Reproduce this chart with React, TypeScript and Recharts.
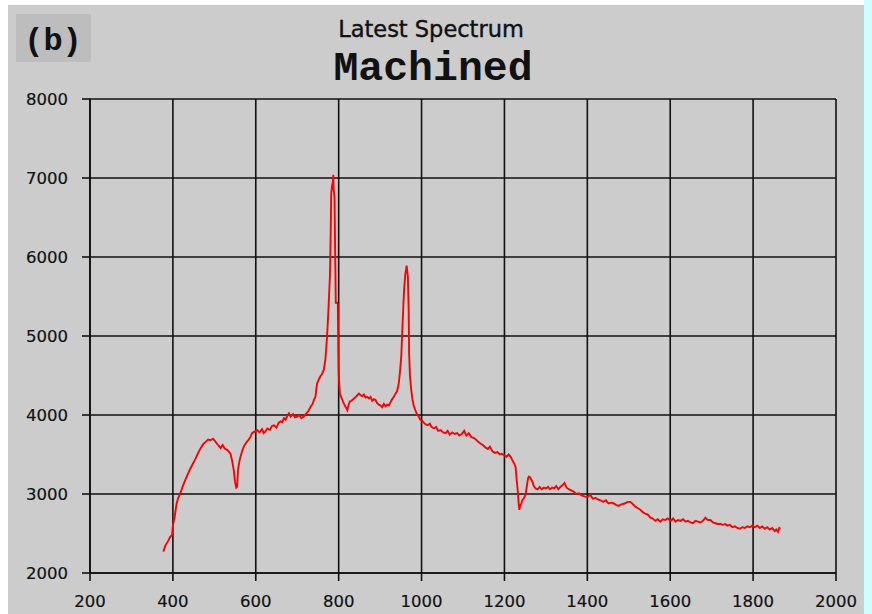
import React from 'react';
import { LineChart, Line, XAxis, YAxis, CartesianGrid } from 'recharts';

// Raman shift (cm-1)
const wavenumber = [
  377, 382, 388, 394, 398, 400, 404, 409, 413, 418, 424, 430, 436, 442, 448, 455, 461, 467, 473, 479,
  485, 491, 497, 503, 509, 515, 520, 526, 531, 536, 539, 543, 547, 550, 553, 555, 557, 560, 563, 567,
  571, 577, 583, 587, 591, 597, 603, 609, 615, 619, 623, 628, 634, 639, 644, 650, 655, 660, 664, 668,
  672, 676, 680, 684, 690, 695, 700, 705, 710, 716, 722, 727, 732, 737, 741, 744, 746, 748, 752, 756,
  760, 764, 768, 772, 775, 779, 781, 782, 784, 786, 787, 788, 790, 791, 793, 796, 798, 799, 800, 802,
  803, 806, 809, 812, 815, 818, 821, 824, 827, 831, 835, 840, 845, 849, 853, 857, 861, 865, 869, 873,
  877, 881, 885, 889, 893, 897, 901, 905, 909, 913, 917, 921, 925, 929, 933, 937, 941, 945, 948, 951,
  953, 956, 958, 961, 963, 964, 966, 967, 969, 970, 972, 975, 978, 981, 985, 989, 993, 997, 1001, 1006,
  1010, 1015, 1020, 1024, 1030, 1035, 1040, 1046, 1052, 1058, 1063, 1068, 1074, 1080, 1086, 1091, 1097, 1103, 1108, 1114,
  1120, 1126, 1131, 1137, 1142, 1148, 1154, 1160, 1165, 1171, 1177, 1183, 1189, 1194, 1199, 1205, 1210, 1215, 1220, 1224,
  1227, 1230, 1232, 1234, 1236, 1238, 1241, 1243, 1247, 1251, 1254, 1257, 1259, 1262, 1265, 1268, 1271, 1275, 1280, 1285,
  1290, 1295, 1300, 1305, 1310, 1315, 1320, 1325, 1330, 1335, 1340, 1345, 1350, 1355, 1360, 1367, 1373, 1380, 1387, 1393,
  1400, 1407, 1413, 1420, 1426, 1432, 1438, 1445, 1451, 1458, 1464, 1470, 1476, 1482, 1490, 1498, 1504, 1510, 1516, 1522,
  1528, 1534, 1540, 1546, 1552, 1558, 1564, 1570, 1576, 1582, 1588, 1594, 1601, 1607, 1613, 1619, 1625, 1631, 1637, 1643,
  1649, 1655, 1661, 1667, 1673, 1679, 1685, 1691, 1697, 1703, 1709, 1715, 1721, 1727, 1733, 1738, 1744, 1750, 1756, 1762,
  1768, 1774, 1780, 1786, 1792, 1798, 1804, 1810, 1816, 1822, 1828, 1834, 1840, 1846, 1852, 1856, 1860, 1863, 1866,
];

// intensity (counts) at each shift above
const counts = [
  2270, 2350, 2400, 2460, 2480, 2600, 2700, 2880, 2950, 3010, 3100, 3180, 3250, 3320, 3380, 3450, 3520, 3580, 3630, 3660,
  3690, 3680, 3700, 3660, 3620, 3580, 3620, 3570, 3560, 3530, 3510, 3420, 3300, 3150, 3080, 3090, 3300, 3400, 3470, 3540,
  3600, 3650, 3690, 3720, 3770, 3790, 3810, 3780, 3820, 3770, 3790, 3830, 3810, 3860, 3870, 3840, 3900, 3920, 3910, 3960,
  3940, 3990, 4020, 3980, 4010, 3970, 3980, 4000, 3960, 3980, 4020, 4050, 4100, 4140, 4200, 4230, 4320, 4400, 4450, 4490,
  4520, 4570, 4700, 4990, 5300, 5770, 6400, 6800, 6900, 6950, 7040, 6850, 6760, 6300, 5420, 5420, 5400, 4900, 4530, 4350,
  4270, 4230, 4190, 4150, 4120, 4090, 4060, 4130, 4170, 4180, 4200, 4220, 4250, 4270, 4250, 4240, 4260, 4220, 4230, 4210,
  4230, 4180, 4200, 4190, 4150, 4130, 4120, 4100, 4140, 4110, 4130, 4120, 4160, 4200, 4230, 4270, 4300, 4400, 4550, 4740,
  5000, 5370, 5600, 5790, 5850, 5890, 5800, 5750, 5300, 4780, 4500, 4320, 4200, 4120, 4060, 4010, 3980, 3940, 3930, 3900,
  3880, 3870, 3890, 3850, 3830, 3850, 3800, 3810, 3780, 3770, 3800, 3750, 3780, 3760, 3770, 3740, 3760, 3800, 3740, 3770,
  3720, 3710, 3690, 3660, 3640, 3620, 3590, 3570, 3600, 3540, 3520, 3530, 3500, 3510, 3490, 3470, 3500, 3470, 3420, 3380,
  3340, 3150, 3050, 2900, 2800, 2850, 2880, 2920, 2950, 2990, 3100, 3200, 3220, 3210, 3180, 3150, 3100, 3070, 3060, 3090,
  3060, 3080, 3070, 3090, 3060, 3080, 3070, 3100, 3060, 3090, 3110, 3140, 3080, 3060, 3050, 3030, 3000, 3010, 2980, 2970,
  2960, 2990, 2940, 2950, 2930, 2920, 2900, 2920, 2880, 2890, 2880, 2860, 2850, 2870, 2880, 2900, 2900, 2870, 2840, 2820,
  2800, 2770, 2750, 2740, 2700, 2690, 2660, 2680, 2650, 2680, 2670, 2690, 2660, 2690, 2650, 2670, 2660, 2680, 2650, 2660,
  2640, 2630, 2660, 2650, 2640, 2660, 2700, 2670, 2670, 2640, 2630, 2620, 2620, 2610, 2620, 2600, 2610, 2580, 2590, 2570,
  2560, 2580, 2570, 2590, 2580, 2600, 2580, 2600, 2570, 2590, 2560, 2580, 2550, 2570, 2530, 2550, 2520, 2570, 2560,
];

const xTicks = [200, 400, 600, 800, 1000, 1200, 1400, 1600, 1800, 2000];
const yTicks = [2000, 3000, 4000, 5000, 6000, 7000, 8000];

const spectrum = wavenumber.map((x, i) => ({ x, y: counts[i] }));

const tickFont = { fontFamily: 'DejaVu Sans', fontSize: 16.5, fill: '#111', stroke: '#111', strokeWidth: 0.2 };

export default function App() {
  return (
    <div style={{ position: 'absolute', left: 0, top: 0, width: 872, height: 614, background: '#fff', overflow: 'hidden' }}>
      <div style={{ position: 'absolute', left: 8, top: 5, width: 856, height: 609, background: '#cccccc' }} />
      <div style={{ position: 'absolute', left: 864, top: 0, width: 8, height: 614, background: '#ccffff' }} />
      <div style={{ position: 'absolute', left: 16, top: 14, width: 75, height: 48, background: '#bdbdbd' }} />
      <svg style={{ position: 'absolute', left: 0, top: 0 }} width={872} height={100}>
        <text x={53} y={50} textAnchor="middle" fontFamily="Liberation Mono" fontWeight="bold" fontSize={32} fill="#111">(b)</text>
        <text x={431} y={37} textAnchor="middle" fontFamily="DejaVu Sans" fontSize={22.5} fill="#111" stroke="#111" strokeWidth={0.4}>Latest Spectrum</text>
        <text x={433} y={80} textAnchor="middle" fontFamily="Liberation Mono" fontWeight="bold" fontSize={41.5} fill="#111">Machined</text>
      </svg>
      <div style={{ position: 'absolute', left: 0, top: 0 }}>
        <LineChart width={872} height={614} data={spectrum} margin={{ top: 99, right: 36, left: 30, bottom: 11 }}>
          <CartesianGrid stroke="#111" strokeWidth={1.6} horizontalValues={yTicks} verticalValues={xTicks} />
          <XAxis
            dataKey="x"
            type="number"
            domain={[200, 2000]}
            ticks={xTicks}
            height={30}
            tickSize={8}
            tickMargin={14}
            tick={tickFont}
            axisLine={{ stroke: '#111', strokeWidth: 1.6 }}
            tickLine={{ stroke: '#111', strokeWidth: 1.6 }}
            allowDataOverflow
          />
          <YAxis
            type="number"
            domain={[2000, 8000]}
            ticks={yTicks}
            width={60}
            tickSize={8}
            tickMargin={14}
            tick={tickFont}
            axisLine={{ stroke: '#111', strokeWidth: 1.6 }}
            tickLine={{ stroke: '#111', strokeWidth: 1.6 }}
            allowDataOverflow
          />
          <Line type="linear" dataKey="y" stroke="#ff0000" strokeWidth={1.9} dot={false} isAnimationActive={false} />
        </LineChart>
      </div>
    </div>
  );
}
